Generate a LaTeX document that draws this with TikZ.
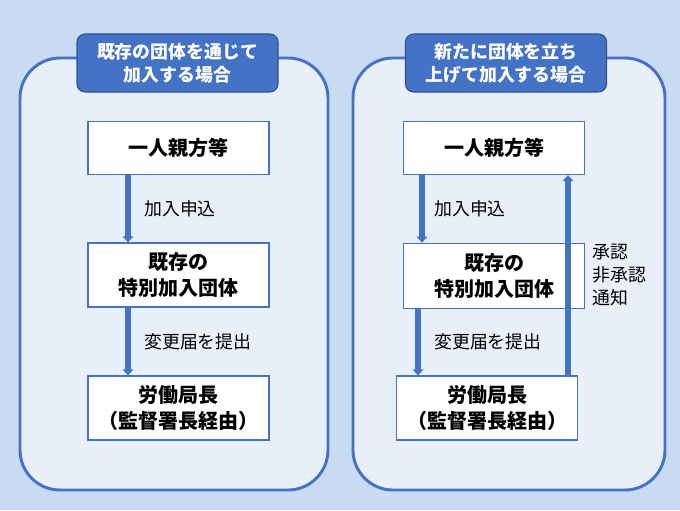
\documentclass[tikz,border=0pt]{standalone}
\usepackage{fontspec}
\setmainfont{Noto Sans CJK JP}
\usetikzlibrary{arrows.meta,positioning}

\definecolor{bgblue}{RGB}{201,218,243}
\definecolor{panelfill}{RGB}{233,239,248}
\definecolor{mainblue}{RGB}{68,114,196}
\definecolor{darkblue}{RGB}{47,82,143}

\tikzset{
  panel/.style={draw=mainblue,line width=2.2pt,fill=panelfill,rounded corners=30pt},
  headbox/.style={draw=darkblue,line width=0.8pt,fill=mainblue,rounded corners=6pt,
    text=white,font=\fontsize{13.4}{17}\selectfont\bfseries,align=center,
    minimum width=150.75pt,minimum height=43.5pt,inner sep=0pt},
  flowbox/.style={draw=mainblue,line width=1pt,fill=white,
    font=\fontsize{15}{20}\selectfont\bfseries,align=center,
    minimum width=135.75pt,inner sep=0pt},
  flowlabel/.style={font=\fontsize{13.4}{17}\selectfont,align=left,anchor=west,inner sep=0pt},
  flow/.style={draw=mainblue,line width=5pt,-{Triangle[width=8pt,length=4.5pt]}}
}

\begin{document}
\begin{tikzpicture}[x=0.75pt,y=-0.75pt]
  \fill[bgblue] (0,0) rectangle (680,510);

  % left: through an existing body
  \begin{scope}
    \draw[panel] (20,58) rectangle (328,490);
    \node[headbox] (headL) at (177.5,63) {既存の団体を通じて\\加入する場合};
    \node[flowbox,minimum height=39.75pt] (oyaL) at (178.5,148) {一人親方等};
    \node[flowbox,minimum height=48pt] (dantaiL) at (178.5,275) {既存の\\特別加入団体};
    \node[flowbox,minimum height=48pt] (kyokuL) at (178.5,408) {労働局長\\（監督署長経由）};
    \coordinate (xL) at (128,0);
    \draw[flow] (oyaL.south -| xL) -- (dantaiL.north -| xL);
    \draw[flow] (dantaiL.south -| xL) -- (kyokuL.north -| xL);
    \node[flowlabel] (kanyuL) at (144,209) {加入申込};
    \node[flowlabel] (henkoL) at (144,342) {変更届を提出};
  \end{scope}

  % right: setting up a new body
  \begin{scope}
    \draw[panel] (353,58) rectangle (665,490);
    \node[headbox] (headR) at (506,63) {新たに団体を立ち\\上げて加入する場合};
    \node[flowbox,minimum height=39.75pt] (oyaR) at (494,148) {一人親方等};
    \node[flowbox,minimum height=49pt] (dantaiR) at (494,276) {既存の\\特別加入団体};
    \node[flowbox,minimum height=48pt] (kyokuR) at (487,408) {労働局長\\（監督署長経由）};
    \coordinate (xR1) at (422,0);
    \coordinate (xR2) at (418,0);
    \coordinate (xR3) at (568,0);
    \draw[flow] (oyaR.south -| xR1) -- (dantaiR.north -| xR1);
    \draw[flow] (dantaiR.south -| xR2) -- (kyokuR.north -| xR2);
    \draw[flow] (kyokuR.north -| xR3) -- (oyaR.south -| xR3);
    \node[flowlabel] (kanyuR) at (434,209) {加入申込};
    \node[flowlabel] (henkoR) at (434,342) {変更届を提出};
    \node[flowlabel] (shoninR) at (592,275) {承認\\非承認\\通知};
  \end{scope}
\end{tikzpicture}
\end{document}
